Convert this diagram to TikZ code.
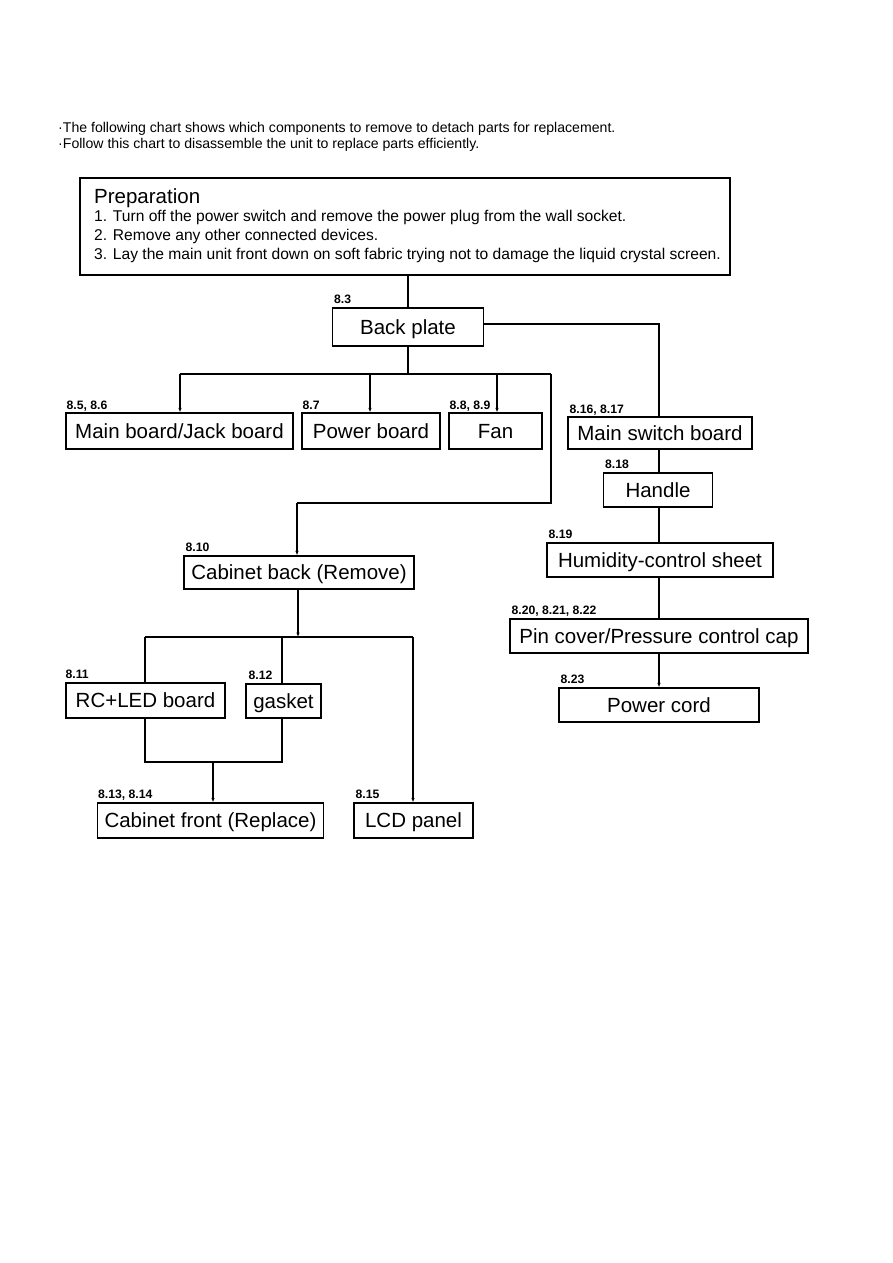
\documentclass[tikz,border=0pt]{standalone}
\usepackage{fontspec}
\setmainfont{Liberation Sans}
\usetikzlibrary{arrows.meta}
\begin{document}
\begin{tikzpicture}[x=1pt,y=-1pt,
  box/.style={draw, line width=1.2pt, inner sep=0pt, font=\fontsize{20.5}{22}\selectfont, text height=14.7pt, text depth=0pt},
  lbl/.style={anchor=base west, inner sep=0pt, font=\fontsize{12.2}{13}\selectfont\bfseries},
  prepline/.style={anchor=base west, inner sep=0pt, font=\fontsize{15.6}{17}\selectfont},
  intro/.style={anchor=base west, inner sep=0pt, font=\fontsize{14.1}{15}\selectfont},
  conn/.style={line width=1.2pt},
  arr/.style={line width=1.2pt, -{Latex[length=4.5pt,width=3.5pt]}}
]
\useasboundingbox (0,0) rectangle (893,1263);

% intro
\node[intro] (introA) at (58,132) {·The following chart shows which components to remove to detach parts for replacement.};
\node[intro] (introB) at (58,148) {·Follow this chart to disassemble the unit to replace parts efficiently.};

% preparation box
\node[draw, line width=1.2pt, inner sep=0pt, minimum width=650pt, minimum height=97pt] (prep) at (405,226.5) {};
\node[anchor=base west, inner sep=0pt, font=\fontsize{20.5}{22}\selectfont] (prepT) at (94,203) {Preparation};
\node[prepline] (prepA) at (94,221.7) {1. Turn off the power switch and remove the power plug from the wall socket.};
\node[prepline] (prepB) at (94,240.7) {2. Remove any other connected devices.};
\node[prepline] (prepC) at (94,259.5) {3. Lay the main unit front down on soft fabric trying not to damage the liquid crystal screen.};

% boxes
\node[box, minimum width=151pt, minimum height=38pt] (bp) at (408,327) {Back plate};
\node[box, minimum width=227pt, minimum height=36pt] (mb) at (179.5,431) {Main board/Jack board};
\node[box, minimum width=138pt, minimum height=36pt] (pb) at (371,431) {Power board};
\node[box, minimum width=93pt, minimum height=36pt] (fan) at (495.5,431) {Fan};
\node[box, minimum width=184pt, minimum height=32pt] (msb) at (660,433) {Main switch board};
\node[box, minimum width=109pt, minimum height=34pt] (hd) at (658,490) {Handle};
\node[box, minimum width=226pt, minimum height=34pt] (hum) at (660,560) {Humidity-control sheet};
\node[box, minimum width=298pt, minimum height=34pt] (pin) at (659,636) {Pin cover/Pressure control cap};
\node[box, minimum width=200pt, minimum height=34pt] (pc) at (659,705) {Power cord};
\node[box, minimum width=230pt, minimum height=33pt] (cb) at (299,572.5) {Cabinet back (Remove)};
\node[box, minimum width=159pt, minimum height=35pt] (rc) at (145.5,700.5) {RC+LED board};
\node[box, minimum width=75pt, minimum height=34pt] (gk) at (283.5,701) {gasket};
\node[box, minimum width=226pt, minimum height=35pt] (cf) at (210.5,820.5) {Cabinet front (Replace)};
\node[box, minimum width=119pt, minimum height=35pt] (lcd) at (413.5,820.5) {LCD panel};

% labels
\node[lbl] (lbp) at ([shift={(2,-4)}]bp.north west) {8.3};
\node[lbl] (lmb) at ([shift={(1,-3)}]mb.north west) {8.5, 8.6};
\node[lbl] (lpb) at ([shift={(1,-3)}]pb.north west) {8.7};
\node[lbl] (lfan) at ([shift={(1,-3)}]fan.north west) {8.8, 8.9};
\node[lbl] (lmsb) at ([shift={(2,-3)}]msb.north west) {8.16, 8.17};
\node[lbl] (lhd) at ([shift={(2,-4)}]hd.north west) {8.18};
\node[lbl] (lhum) at ([shift={(2,-4)}]hum.north west) {8.19};
\node[lbl] (lpin) at ([shift={(2,-4)}]pin.north west) {8.20, 8.21, 8.22};
\node[lbl] (lpc) at ([shift={(2,-4)}]pc.north west) {8.23};
\node[lbl] (lcb) at ([shift={(2,-4)}]cb.north west) {8.10};
\node[lbl] (lrc) at ([shift={(0,-4)}]rc.north west) {8.11};
\node[lbl] (lgk) at ([shift={(3,-4)}]gk.north west) {8.12};
\node[lbl] (lcf) at ([shift={(1,-4)}]cf.north west) {8.13, 8.14};
\node[lbl] (llcd) at ([shift={(2,-4)}]lcd.north west) {8.15};

% junction coordinates
\coordinate (j1) at (408,374);
\coordinate (j1L) at (180,374);
\coordinate (j1R) at (551,374);
\coordinate (j1P) at (370,374);
\coordinate (j1F) at (497,374);
\coordinate (jR2) at (551,503);
\coordinate (jL2) at (297,503);
\coordinate (j2) at (298,637);
\coordinate (j2L) at (145,637);
\coordinate (j2G) at (282,637);
\coordinate (j2R) at (413,637);
\coordinate (j3L) at (145,762);
\coordinate (j3R) at (282,762);
\coordinate (j3M) at (213,762);

% connectors
\draw[conn] (prep.south -| bp.north) -- (bp.north);
\draw[conn] (bp.south) -- (j1);
\draw[conn] (j1L) -- (j1R);
\draw[arr] (j1L) -- (j1L |- mb.north);
\draw[arr] (j1P) -- (j1P |- pb.north);
\draw[arr] (j1F) -- (j1F |- fan.north);
\draw[conn] (j1R) -- (jR2) -- (jL2);
\draw[arr] (jL2) -- (jL2 |- cb.north);
\draw[conn] (bp.east |- 0,324) -| (msb.north -| 659,0);
\draw[conn] (msb.south -| 659,0) -- (hd.north -| 659,0);
\draw[conn] (hd.south -| 659,0) -- (hum.north -| 659,0);
\draw[conn] (hum.south -| 659,0) -- (pin.north -| 659,0);
\draw[arr] (pin.south -| 659,0) -- (pc.north -| 659,0);
\draw[arr] (cb.south -| j2) -- (j2);
\draw[conn] (j2L) -- (j2R);
\draw[conn] (j2L) -- (j2L |- rc.north);
\draw[conn] (j2G) -- (j2G |- gk.north);
\draw[arr] (j2R) -- (j2R |- lcd.north);
\draw[conn] (rc.south -| j3L) -- (j3L) -- (j3R) -- (j3R |- gk.south);
\draw[arr] (j3M) -- (j3M |- cf.north);
\end{tikzpicture}
\end{document}
